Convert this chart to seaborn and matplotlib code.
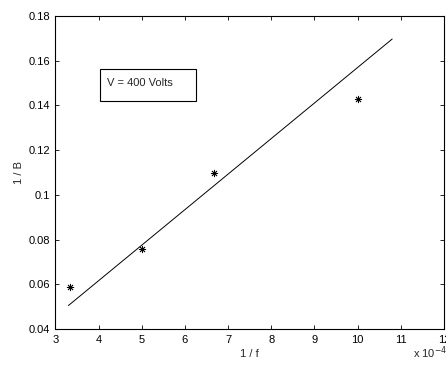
import matplotlib
matplotlib.use('Agg')
import matplotlib.pyplot as plt
import seaborn as sns
import pandas as pd
from matplotlib.patches import Rectangle

sns.set_style('ticks')
plt.rcParams['font.family'] = ['Liberation Sans', 'DejaVu Sans']

# measured points (1/f in units of 1e-4)
inv_f = [3.33, 5.0, 6.67, 10.0]
inv_b = [0.0587, 0.0758, 0.1097, 0.1427]

# fitted line end points
fit_x = [3.3, 10.8]
fit_y = [0.0505, 0.1697]

x_ticks = [3, 4, 5, 6, 7, 8, 9, 10, 11, 12]
y_ticks = [0.04, 0.06, 0.08, 0.1, 0.12, 0.14, 0.16, 0.18]
y_tick_labels = ['0.04', '0.06', '0.08', '0.1', '0.12', '0.14', '0.16', '0.18']

pts_df = pd.DataFrame({'x': inv_f, 'y': inv_b})
fit_df = pd.DataFrame({'x': fit_x, 'y': fit_y})

fig = plt.figure(figsize=(4.46, 3.66), dpi=100)
ax = fig.add_axes([0.1244, 0.1011, 0.8711, 0.8552])

sns.lineplot(data=fit_df, x='x', y='y', color='black', linewidth=0.7, ax=ax)
sns.scatterplot(data=pts_df, x='x', y='y', marker=(8, 2, 0), s=22,
                color='black', linewidth=0.6, edgecolor='black', ax=ax)

ax.set_xlim(3, 12)
ax.set_ylim(0.04, 0.18)
ax.set_xticks(x_ticks)
ax.set_yticks(y_ticks)
ax.set_yticklabels(y_tick_labels)
ax.tick_params(direction='in', length=3, width=0.6, labelsize=8,
               top=True, right=True, pad=4, colors='black')
for s in ax.spines.values():
    s.set_visible(True)
    s.set_linewidth(0.8)
    s.set_color('black')

ax.set_xlabel('1 / f', fontsize=8, labelpad=3)
ax.set_ylabel('1 / B', fontsize=8, labelpad=3)

ax.add_patch(Rectangle((0.115, 0.7295), 0.247, 0.102, transform=ax.transAxes,
                       fill=False, edgecolor='black', linewidth=0.8))
ax.text(0.132, 0.785, 'V = 400 Volts', transform=ax.transAxes,
        fontsize=8, va='center', ha='left')

fig.text(0.925, 0.015, r'x 10$^{-4}$', fontsize=8, ha='left', va='bottom')

fig.savefig('out.png', dpi=100)
